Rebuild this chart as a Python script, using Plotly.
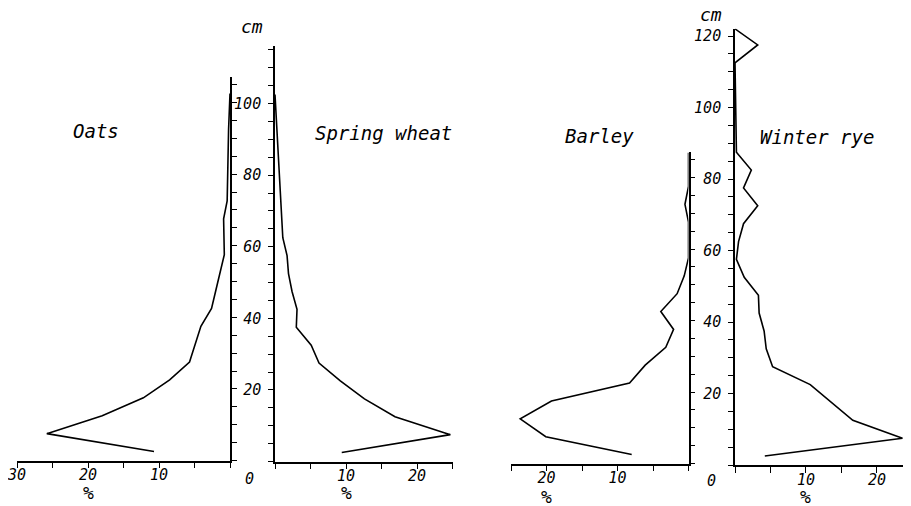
import plotly.graph_objects as go

W, H = 911, 506          # browser window
OFF = 8                  # default page margin around the plot
FW, FH = W - OFF, H - OFF

# ---------------- data (depth in cm, share of roots in %) ----------------
OATS_DEPTH = [2.5, 7.5, 12.5, 17.5, 22.5, 27.5, 37.5, 42.5, 47.5, 52.5, 57.5, 67.5, 72.5, 92.5, 102.5]
OATS_PCT = [10.7, 25.8, 18.0, 12.2, 8.5, 5.7, 4.1, 2.6, 2.0, 1.4, 0.8, 0.9, 0.4, 0.2, 0.0]

WHEAT_DEPTH = [2.5, 7.5, 12.5, 17.5, 22.5, 27.5, 32.5, 37.5, 42.5, 47.5, 52.5, 57.5, 62.5, 92.5, 102.5]
WHEAT_PCT = [9.4, 24.7, 16.9, 12.6, 9.2, 6.2, 5.1, 3.0, 3.1, 2.4, 1.9, 1.7, 1.1, 0.3, 0.0]

BARLEY_DEPTH = [2.5, 7.5, 12.5, 17.5, 22.5, 27.5, 32.5, 37.5, 42.5, 47.5, 52.5, 57.5, 67.5, 72.5, 77.5, 87.0]
BARLEY_PCT = [8.0, 20.1, 23.7, 19.3, 8.3, 6.1, 3.2, 2.1, 3.9, 1.6, 0.6, 0.0, 0.0, 0.5, 0.0, 0.0]

RYE_DEPTH = [2.5, 7.5, 12.5, 22.5, 27.5, 32.5, 37.5, 42.5, 47.5, 52.5, 57.5, 62.5, 67.5, 72.5, 77.5, 82.5, 87.5, 112.5, 117.5, 122.0]
RYE_PCT = [4.2, 23.6, 16.6, 10.6, 5.3, 4.4, 4.1, 3.4, 3.3, 1.3, 0.2, 0.5, 1.2, 3.2, 1.2, 2.3, 0.2, 0.0, 3.2, 0.0]

TITLES = ["Oats", "Spring wheat", "Barley", "Winter rye"]

OATS_XTICKS = [0, 5, 10, 15, 20, 25, 30]
OATS_XTEXT = ["", "", "10", "", "20", "", "30"]
WHEAT_XTICKS = [0, 5, 10, 15, 20, 25]
WHEAT_XTEXT = ["", "", "10", "", "20", ""]
BARLEY_XTICKS = [0, 5, 10, 15, 20, 25]
BARLEY_XTEXT = ["", "", "10", "", "20", ""]
RYE_XTICKS = [0, 5, 10, 15, 20]
RYE_XTEXT = ["", "", "10", "", "20"]

LEFT_DEPTH_TICKS = list(range(0, 120, 5))
RIGHT_DEPTH_TICKS = list(range(0, 125, 5))
DEPTH_LABEL_STEP = 20

# ---------------- styling / geometry ----------------
FONT = "DejaVu Sans Mono"
INK = "black"


def px_x(p):
    return (p - OFF) / FW


def px_y(p):
    return 1 - (p - OFF) / FH


def depth_text(ticks):
    return [str(t) if (t % DEPTH_LABEL_STEP == 0 and t > 0) else "" for t in ticks]


panels = [
    dict(x=OATS_PCT, y=OATS_DEPTH, xr=[30, 0], xpx=(17, 230), y0=460.5, top=107, ppc=3.58, side="right",
         xt=OATS_XTICKS, xtt=OATS_XTEXT, yt=[t for t in LEFT_DEPTH_TICKS if t <= 105], lab=False),
    dict(x=WHEAT_PCT, y=WHEAT_DEPTH, xr=[0, 25], xpx=(275, 452.5), y0=461.5, top=116, ppc=3.58, side="left",
         xt=WHEAT_XTICKS, xtt=WHEAT_XTEXT, yt=LEFT_DEPTH_TICKS, lab=True),
    dict(x=BARLEY_PCT, y=BARLEY_DEPTH, xr=[25, 0], xpx=(511, 688.5), y0=463.5, top=87, ppc=3.575, side="right",
         xt=BARLEY_XTICKS, xtt=BARLEY_XTEXT, yt=[t for t in RIGHT_DEPTH_TICKS if t <= 85], lab=False),
    dict(x=RYE_PCT, y=RYE_DEPTH, xr=[0, 24.8], xpx=(735, 911), y0=465, top=122, ppc=3.575, side="left",
         xt=RYE_XTICKS, xtt=RYE_XTEXT, yt=RIGHT_DEPTH_TICKS, lab=True),
]

fig = go.Figure()
layout = dict(
    width=FW, height=FH, autosize=False, template="none",
    margin=dict(l=0, r=0, t=0, b=0, pad=0),
    paper_bgcolor="white", plot_bgcolor="rgba(0,0,0,0)",
    showlegend=False,
    font=dict(family=FONT, color=INK, size=15, style="italic"),
)

for i, p in enumerate(panels, start=1):
    xa = "x" if i == 1 else f"x{i}"
    ya = "y" if i == 1 else f"y{i}"
    fig.add_trace(go.Scatter(
        x=p["x"], y=p["y"], mode="lines", xaxis=xa, yaxis=ya,
        line=dict(color=INK, width=1.6), hoverinfo="skip",
    ))
    ydom = [max(0, px_y(p["y0"])), min(1, px_y(p["y0"] - p["top"] * p["ppc"]))]
    layout[f"xaxis{'' if i == 1 else i}"] = dict(
        domain=[max(0, px_x(p["xpx"][0])), min(1, px_x(p["xpx"][1]))], range=p["xr"], anchor=ya,
        showline=True, linecolor=INK, linewidth=1.6, showgrid=False, zeroline=False,
        ticks="outside", ticklen=6, tickwidth=1.4, tickcolor=INK,
        tickmode="array", tickvals=p["xt"], ticktext=p["xtt"],
        ticklabelstandoff=-6, ticklabeloverflow="allow",
        tickfont=dict(family=FONT, size=15, color=INK, style="italic"),
        automargin=False, fixedrange=True,
    )
    layout[f"yaxis{'' if i == 1 else i}"] = dict(
        domain=ydom, range=[0, p["top"]], anchor=xa, side=p["side"],
        showline=True, linecolor=INK, linewidth=1.6, showgrid=False, zeroline=False,
        ticks="outside", ticklen=5, tickwidth=1.4, tickcolor=INK,
        tickmode="array", tickvals=p["yt"],
        ticktext=depth_text(p["yt"]) if p["lab"] else [""] * len(p["yt"]),
        showticklabels=p["lab"], ticklabelstandoff=4, ticklabeloverflow="allow",
        tickfont=dict(family=FONT, size=15, color=INK, style="italic"),
        automargin=False, fixedrange=True,
    )

annotations = []
title_pos = [(96, 131), (383, 133), (599, 136), (817, 137)]
for t, (ax, ay) in zip(TITLES, title_pos):
    annotations.append(dict(text=t, x=px_x(ax), y=px_y(ay), xref="paper", yref="paper",
                            showarrow=False, xanchor="center", yanchor="middle",
                            font=dict(family=FONT, size=19, color=INK, style="italic")))
for ux, uy in [(252, 26), (711, 15)]:
    annotations.append(dict(text="cm", x=px_x(ux), y=px_y(uy), xref="paper", yref="paper",
                            showarrow=False, xanchor="center", yanchor="middle",
                            font=dict(family=FONT, size=18, color=INK, style="italic")))
for zx, zy in [(249, 479), (711, 481)]:
    annotations.append(dict(text="0", x=px_x(zx), y=px_y(zy), xref="paper", yref="paper",
                            showarrow=False, xanchor="center", yanchor="middle",
                            font=dict(family=FONT, size=15, color=INK, style="italic")))
for xr_, xv, py in [("x", 20, 492), ("x2", 10, 492), ("x3", 20, 496), ("x4", 10, 496)]:
    annotations.append(dict(text="%", x=xv, y=px_y(py), xref=xr_, yref="paper",
                            showarrow=False, xanchor="center", yanchor="middle",
                            font=dict(family=FONT, size=18, color=INK, style="italic")))

layout["annotations"] = annotations
fig.update_layout(**layout)
fig.write_html("out.html")
